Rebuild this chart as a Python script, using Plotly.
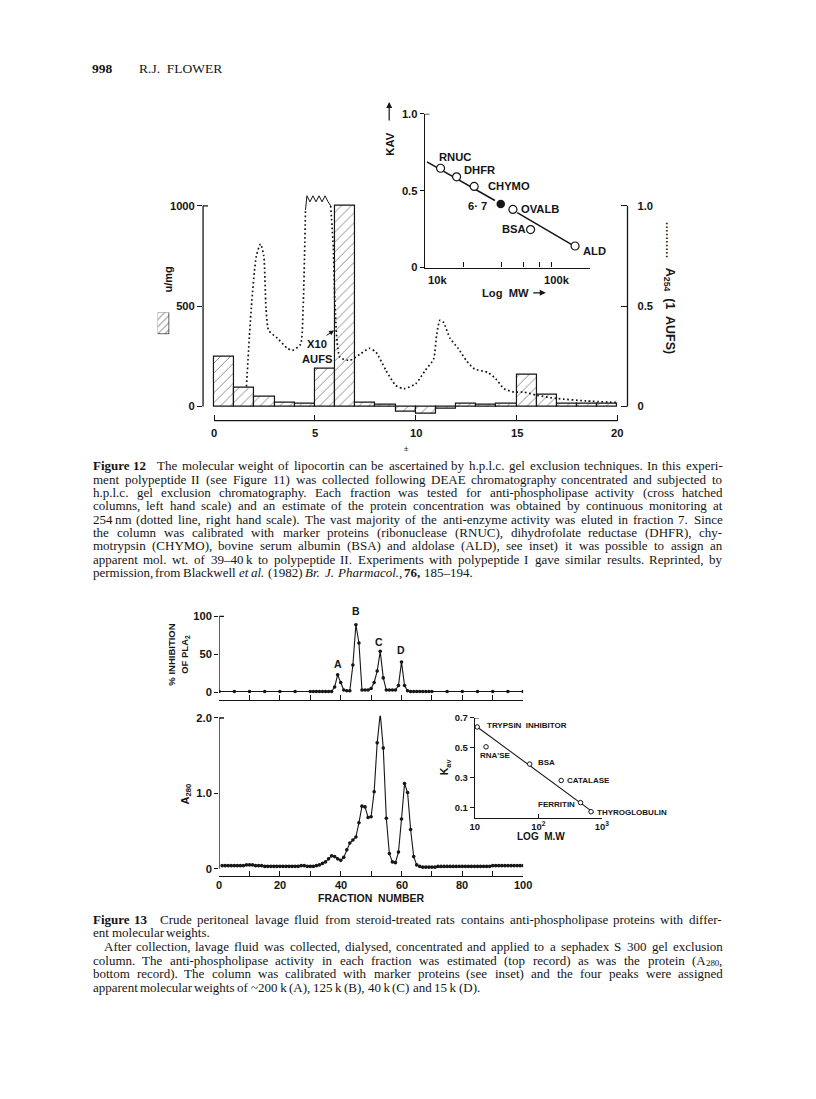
import plotly.graph_objects as go

# The page body keeps an 8 px margin; the figure is kept a little smaller than the
# window so the page never overflows, and page-pixel positions are converted with that offset.
OFF = 8
W, H = 788, 1067
def px(x): return (x - OFF) / W
def py(y): return 1 - (y - OFF) / H

SANS, SERIF, INK = "Liberation Sans", "Liberation Serif", "#151515"

# ---------------- Figure 12 data ----------------
frac12 = list(range(20))
act12_u_per_mg = [246, 95, 49, 20, 13, 189, 1000, 21, 7, -25, -38, -12, 16, 10, 13, 159, 57, 16, 16, 16]
a254_frac = [1.6, 1.84, 2.09, 2.30, 2.46, 2.57, 2.70, 3.14, 3.63, 3.88, 4.28, 4.41, 4.53, None,
             5.78, 5.91, 6.0, 6.24, 6.73, 7.22, 7.71, 8.03, 8.52, 9.01, 9.41, 9.99, 10.47, 10.88,
             11.04, 11.2, 11.37, 11.7, 12.1, 12.5, 12.92, 13.57, 13.97, 14.38, 14.87, 15.36, 16.0,
             16.99, 18.45, 20.0]
a254_aufs = [0.10, 0.49, 0.75, 0.81, 0.75, 0.49, 0.38, 0.34, 0.29, 0.28, 0.31, 0.49, 0.98, None,
             1.0, 0.79, 0.49, 0.245, 0.23, 0.26, 0.29, 0.27, 0.18, 0.105, 0.089, 0.113, 0.18, 0.236,
             0.36, 0.43, 0.42, 0.34, 0.29, 0.23, 0.187, 0.17, 0.138, 0.089, 0.072, 0.072, 0.056,
             0.04, 0.028, 0.02]
offscale_frac = [4.53, 4.60, 4.75, 4.90, 5.05, 5.20, 5.35, 5.50, 5.65, 5.78]
offscale_aufs = [0.98, 1.05, 1.02, 1.05, 1.02, 1.05, 1.02, 1.05, 1.02, 1.0]
x12_ticks = [0, 5, 10, 15, 20]

# inset: calibration
ins12_names = ["RNUC", "DHFR", "CHYMO", "OVALB", "BSA", "ALD"]
ins12_mw = [13.3e3, 17.8e3, 24.5e3, 49.5e3, 68.2e3, 153e3]
ins12_kav = [0.646, 0.59, 0.528, 0.378, 0.247, 0.14]
sample12_name = "6· 7"
sample12_mw = [39.7e3]
sample12_kav = [0.414]
fit12_mw = [10.4e3, 35.7e3, None, 53.5e3, 143e3]
fit12_kav = [0.687, 0.436, None, 0.357, 0.150]

# ---------------- Figure 13 data ----------------
inh_frac = [0, 5, 10, 15, 20, 25, 30, 31, 32, 33, 34, 35, 36, 37, 38, 39, 40, 41, 42, 43, 44, 45,
            46, 47, 48, 49, 50, 51, 52, 53, 54, 55, 56, 57, 58, 59, 60, 61, 62, 63, 64, 65, 66, 67,
            68, 69, 70, 75, 80, 85, 90, 95, 100]
inh_pct = [1, 1, 1, 1, 1, 1, 1, 1, 1, 1, 1, 1, 1, 1, 7, 23, 13, 3, 2, 2, 36, 89, 65, 3, 3, 3, 5,
           13, 28, 54, 19, 3, 3, 3, 3, 9, 40, 9, 2, 1, 1, 1, 1, 1, 1, 1, 1, 1, 1, 1, 1, 1, 1]
peak_names = ["A", "B", "C", "D"]

a280_frac = list(range(1, 101))
a280 = [0.04, 0.04, 0.04, 0.04, 0.04, 0.04, 0.04, 0.04, 0.05, 0.05,
        0.05, 0.04, 0.04, 0.04, 0.03, 0.03, 0.03, 0.03, 0.03, 0.03,
        0.03, 0.03, 0.03, 0.03, 0.03, 0.03, 0.04, 0.04, 0.03, 0.03,
        0.03, 0.04, 0.05, 0.07, 0.09, 0.13, 0.17, 0.16, 0.13, 0.11,
        0.15, 0.25, 0.34, 0.38, 0.42, 0.61, 0.83, 0.82, 0.68, 0.69,
        1.02, 1.67, 2.06, 1.60, 0.67, 0.20, 0.09, 0.08, 0.22, 0.66,
        1.13, 1.01, 0.52, 0.16, 0.05, 0.03, 0.02, 0.02, 0.02, 0.02,
        0.02, 0.03, 0.03, 0.03, 0.03, 0.03, 0.03, 0.03, 0.03, 0.03,
        0.03, 0.03, 0.03, 0.03, 0.03, 0.03, 0.03, 0.03, 0.03, 0.04,
        0.04, 0.04, 0.04, 0.04, 0.04, 0.04, 0.04, 0.04, 0.04, 0.04]
x13_label_ticks = [0, 20, 40, 60, 80, 100]

ins13_names = ["TRYPSIN  INHIBITOR", "RNA'SE", "BSA", "CATALASE", "FERRITIN", "THYROGLOBULIN"]
ins13_mw = [10.9, 15.0, 73, 229, 461, 675]
ins13_kav = [0.64, 0.507, 0.392, 0.282, 0.134, 0.073]
fit13_mw = [10.9, 740]
fit13_kav = [0.64, 0.067]

caption12 = [
    ("**Figure **12+ The molecular weight of lipocortin can be ascertained by h.p.l.c. gel exclusion techniques. In this experi-", True, 0),
    ("ment polypeptide II (see Figure 11) was collected following DEAE chromatography concentrated and subjected to", True, 0),
    ("h.p.l.c. gel exclusion chromatography. Each fraction was tested for anti-phospholipase activity (cross hatched", True, 0),
    ("columns, left hand scale) and an estimate of the protein concentration was obtained by continuous monitoring at", True, 0),
    ("254\u2009nm (dotted line, right hand scale). The vast majority of the anti-enzyme activity was eluted in fraction 7. Since", True, 0),
    ("the column was calibrated with marker proteins (ribonuclease (RNUC), dihydrofolate reductase (DHFR), chy-", True, 0),
    ("motrypsin (CHYMO), bovine serum albumin (BSA) and aldolase (ALD), see inset) it was possible to assign an", True, 0),
    ("apparent mol. wt. of 39–40\u2009k to polypeptide II. Experiments with polypeptide I gave similar results. Reprinted, by", True, 0),
    ("permission, from Blackwell //et //al. (1982) //Br. //J. //Pharmacol., **76, 185–194.", False, 0),
]
caption13 = [
    ("**Figure **13+ Crude peritoneal lavage fluid from steroid-treated rats contains anti-phospholipase proteins with differ-", True, 0),
    ("ent molecular weights.", False, 0),
    ("After collection, lavage fluid was collected, dialysed, concentrated and applied to a sephadex S 300 gel exclusion", True, 11),
    ("column. The anti-phospholipase activity in each fraction was estimated (top record) as was the protein (A_280_,", True, 0),
    ("bottom record). The column was calibrated with marker proteins (see inset) and the four peaks were assigned", True, 0),
    ("apparent molecular weights of ~200\u2009k (A), 125\u2009k (B), 40\u2009k (C) and 15\u2009k (D).", False, 0),
]

# ---------------- helpers ----------------
def tf(size=11.2):
    return dict(family=SANS, size=size, color=INK, weight="bold")

anns = []
def text(x, y, s, size=11.2, angle=0, xanchor="center", family=SANS, weight="bold", yanchor="middle"):
    anns.append(dict(x=px(x), y=py(y), xref="paper", yref="paper", text=s, showarrow=False,
                     textangle=angle, xanchor=xanchor, yanchor=yanchor, borderpad=0,
                     font=dict(family=family, size=size, color=INK, weight=weight)))

def tick_label(xval, xref, y, s, size=11.2):
    anns.append(dict(x=xval, y=py(y), xref=xref, yref="paper", text=s, showarrow=False,
                     xanchor="center", yanchor="middle", borderpad=0, font=tf(size)))

def arrow(xh, yh, axo, ayo, width=1.2):
    anns.append(dict(x=px(xh), y=py(yh), xref="paper", yref="paper", text="", showarrow=True,
                     ax=axo, ay=ayo, arrowhead=2, arrowsize=1, arrowwidth=width, arrowcolor=INK))

TNR = {' ': 250, '!': 333, '(': 333, ')': 333, ',': 250, '-': 333, '.': 250, '/': 278, ':': 278,
       ';': 278, "'": 333, '~': 541, '–': 500, '\u2009': 170,
       'A': 722, 'B': 667, 'C': 667, 'D': 722, 'E': 611, 'F': 556, 'G': 722, 'H': 722, 'I': 333,
       'J': 389, 'K': 722, 'L': 611, 'M': 889, 'N': 722, 'O': 722, 'P': 556, 'Q': 722, 'R': 667,
       'S': 556, 'T': 611, 'U': 722, 'V': 722, 'W': 944, 'X': 722, 'Y': 722, 'Z': 611,
       'a': 444, 'b': 500, 'c': 444, 'd': 500, 'e': 444, 'f': 333, 'g': 500, 'h': 500, 'i': 278,
       'j': 278, 'k': 500, 'l': 278, 'm': 778, 'n': 500, 'o': 500, 'p': 500, 'q': 500, 'r': 333,
       's': 389, 't': 278, 'u': 500, 'v': 500, 'w': 722, 'x': 500, 'y': 500, 'z': 444}
SUB = 0.68

def tw(s):
    return sum(TNR.get(c, 500) for c in s)

def parse_token(t):
    """Returns a list of (html, width_units, is_sub) pieces plus extra trailing width."""
    style = "r"
    if t.startswith("**"):
        style, t = "b", t[2:]
    elif t.startswith("//"):
        style, t = "i", t[2:]
    extra = 0
    if t.endswith("+") and len(t) > 1:
        extra, t = 450, t[:-1]
    factor = {"r": 1.0, "b": 1.05, "i": 1.05}[style]
    pieces = []
    for k, p in enumerate(t.split("_")):
        if not p:
            continue
        sub = k % 2 == 1
        h = p
        if style == "b":
            h = "<b>" + h + "</b>"
        elif style == "i":
            h = "<i>" + h + "</i>"
        pieces.append((h, tw(p) * factor * (SUB if sub else 1.0), sub))
    return pieces, extra

def caption(lines, y0, dy, left, right, fs):
    for i, (line, justify, indent) in enumerate(lines):
        toks = [parse_token(t) for t in line.split(" ")]
        widths = [(sum(w for _, w, _ in pcs) + e) * fs / 1000 for pcs, e in toks]
        x = left + indent
        if justify and len(toks) > 1:
            gap = max((right - x - sum(widths)) / (len(toks) - 1), 0.12 * fs)
        else:
            gap = 250 * fs / 1000
        yl = y0 + i * dy
        for (pcs, e), wd in zip(toks, widths):
            xp = x
            for h, w, sub in pcs:
                if sub:
                    text(xp, yl + 2.6, h, size=fs * SUB, family=SERIF, weight="normal", xanchor="left")
                else:
                    text(xp, yl, h, size=fs, family=SERIF, weight="normal", xanchor="left")
                xp += w * fs / 1000
            x += wd + gap

def axis(**kw):
    base = dict(showgrid=False, zeroline=False, showline=False, linecolor=INK, linewidth=1.3,
                tickcolor=INK, tickwidth=1.3, tickfont=tf(), fixedrange=True)
    base.update(kw)
    return base

hatch = dict(shape="/", fgcolor=INK, bgcolor="white", size=7, solidity=0.14)

fig = go.Figure()

# ---- Figure 12 main ----
fig.add_trace(go.Bar(x=frac12, y=act12_u_per_mg, width=1, offset=0,
                     marker=dict(color="white", line=dict(color=INK, width=1.2), pattern=hatch),
                     xaxis="x", yaxis="y"))
fig.add_trace(go.Scatter(x=a254_frac, y=a254_aufs, mode="lines", connectgaps=False,
                         line=dict(color=INK, width=1.7, dash="1.7px,2.6px", shape="spline", smoothing=0.6),
                         xaxis="x", yaxis="y2"))
fig.add_trace(go.Scatter(x=offscale_frac, y=offscale_aufs, mode="lines",
                         line=dict(color=INK, width=1), xaxis="x", yaxis="y2"))

# ---- Figure 12 inset ----
fig.add_trace(go.Scatter(x=fit12_mw, y=fit12_kav, mode="lines", connectgaps=False,
                         line=dict(color=INK, width=1.5), xaxis="x3", yaxis="y3"))
fig.add_trace(go.Scatter(x=ins12_mw, y=ins12_kav, mode="markers", text=ins12_names,
                         marker=dict(size=8, color="white", line=dict(color=INK, width=1.2)),
                         xaxis="x3", yaxis="y3"))
fig.add_trace(go.Scatter(x=sample12_mw, y=sample12_kav, mode="markers",
                         marker=dict(size=8.5, color=INK), xaxis="x3", yaxis="y3"))

# ---- Figure 13 top ----
fig.add_trace(go.Scatter(x=inh_frac, y=inh_pct, mode="lines+markers",
                         line=dict(color=INK, width=1.1), marker=dict(size=3.6, color=INK),
                         xaxis="x4", yaxis="y4"))
# ---- Figure 13 bottom ----
fig.add_trace(go.Scatter(x=a280_frac, y=a280, mode="lines+markers",
                         line=dict(color=INK, width=1.1), marker=dict(size=3.6, color=INK),
                         xaxis="x5", yaxis="y5"))
# ---- Figure 13 inset ----
fig.add_trace(go.Scatter(x=fit13_mw, y=fit13_kav, mode="lines",
                         line=dict(color=INK, width=1.1), xaxis="x6", yaxis="y6"))
fig.add_trace(go.Scatter(x=ins13_mw, y=ins13_kav, mode="markers", text=ins13_names,
                         marker=dict(size=4.5, color="white", line=dict(color=INK, width=1)),
                         xaxis="x6", yaxis="y6"))
# ---- hatched key swatch ----
fig.add_trace(go.Bar(x=[0.5], y=[1], width=1,
                     marker=dict(color="white", line=dict(color=INK, width=1.2),
                                 pattern=dict(shape="/", fgcolor=INK, bgcolor="white", size=5, solidity=0.18)),
                     xaxis="x7", yaxis="y7"))

layout_axes = dict(
    xaxis=axis(domain=[px(201), px(632)], range=[-0.552, 20.503], tickvals=x12_ticks,
               showticklabels=False, ticks="inside", ticklen=6, anchor="y"),
    yaxis=axis(domain=[py(419.2), py(181.7)], range=[-70, 1100], tickvals=[0, 500, 1000],
               ticks="outside", ticklen=5, anchor="x"),
    yaxis2=axis(domain=[py(419.2), py(181.7)], range=[-0.07, 1.1], tickvals=[0, 0.5, 1.0],
                ticktext=["0", "0.5", "1.0"], ticks="inside", ticklen=6, overlaying="y",
                side="right", anchor="x", ticklabelstandoff=9),
    xaxis3=axis(domain=[px(426.2), px(593.5)], type="log", range=[4, 5.299],
                tickvals=[1e4, 2e4, 4e4, 6e4, 8e4, 1e5, 2e5], showticklabels=False,
                ticks="inside", ticklen=5, showline=True, anchor="y3"),
    yaxis3=axis(domain=[py(264.4), py(109)], range=[0, 1], tickvals=[0, 0.5, 1],
                ticktext=["0", "0.5", "1.0"], ticks="outside", ticklen=4, showline=True, anchor="x3"),
    xaxis4=axis(domain=[px(217.3), px(526)], range=[0, 100], tickvals=list(range(0, 101, 10)),
                showticklabels=False, ticks="inside", ticklen=5, showline=True, anchor="y4"),
    yaxis4=axis(domain=[py(702.3), py(614.2)], range=[-10.8, 104], tickvals=[0, 50, 100],
                ticks="outside", ticklen=4, anchor="x4"),
    xaxis5=axis(domain=[px(217.3), px(526)], range=[0, 100], tickvals=list(range(0, 101, 10)),
                showticklabels=False, ticks="inside", ticklen=5, showline=True, anchor="y5"),
    yaxis5=axis(domain=[py(880), py(717.7)], range=[-0.1, 2.03], tickvals=[0, 1, 2],
                ticktext=["0", "1.0", "2.0"], ticks="outside", ticklen=4, anchor="x5"),
    xaxis6=axis(domain=[px(477), px(606)], type="log", range=[1, 3], tickvals=[10, 100, 1000],
                ticktext=["10", "10<sup>2</sup>", "10<sup>3</sup>"], tickfont=tf(9.5),
                ticks="inside", ticklen=4, showline=True, linewidth=1.1, anchor="y6"),
    yaxis6=axis(domain=[py(821), py(720)], range=[0.032, 0.7], tickvals=[0.1, 0.3, 0.5, 0.7],
                ticktext=["0.1", "0.3", "0.5", "0.7"], tickfont=tf(9.5), ticks="outside",
                ticklen=4, showline=True, linewidth=1.1, anchor="x6"),
    xaxis7=dict(domain=[px(155), px(166.7)], range=[0, 1], visible=False, anchor="y7", fixedrange=True),
    yaxis7=dict(domain=[py(332), py(310)], range=[0, 1], visible=False, anchor="x7", fixedrange=True),
)

line = dict(color=INK, width=1.3)
shapes = [
    dict(type="line", xref="paper", yref="y", x0=px(201), x1=px(201), y0=0, y1=1000, line=line),
    dict(type="line", xref="paper", yref="y", x0=px(201), x1=px(206), y0=1000, y1=1000, line=line),
    dict(type="line", xref="paper", yref="y2", x0=px(632), x1=px(632), y0=0, y1=1.0, line=line),
    dict(type="line", xref="x", yref="paper", x0=0, x1=20, y0=py(419.2), y1=py(419.2), line=line),
    dict(type="line", xref="paper", yref="y3", x0=px(426.2), x1=px(431), y0=1, y1=1, line=line),
    dict(type="line", xref="x4", yref="y4", x0=0, x1=0, y0=0, y1=100, line=line),
    dict(type="line", xref="x4", yref="y4", x0=0, x1=1.6, y0=100, y1=100, line=line),
    dict(type="line", xref="x5", yref="y5", x0=0, x1=0, y0=0, y1=2.0, line=line),
    dict(type="line", xref="x5", yref="y5", x0=0, x1=1.6, y0=2.0, y1=2.0, line=line),
    dict(type="line", xref="paper", yref="y6", x0=px(477), x1=px(481), y0=0.7, y1=0.7,
         line=dict(color=INK, width=1.1)),
]

# ---------- text ----------
text(87.3, 63, "<b>998</b>", size=13.5, family=SERIF, weight="normal", xanchor="left")
text(135, 63, "R.J.  FLOWER", size=13.5, family=SERIF, weight="normal", xanchor="left")

# Figure 12 labels
for v in x12_ticks:
    tick_label(v, "x", 431.7, str(v))
text(165, 277, "u/mg", size=11, angle=-90)
text(671.5, 237, "··········", size=11, angle=90)
text(675, 308, "A<sub>254</sub>  (1  AUFS)", size=12.5, angle=90)
text(317, 342, "X10", size=11.2)
text(317, 357, "AUFS", size=11.2)
arrow(334, 328, -9, 6, width=1)
text(408, 447, "±", size=8, weight="normal")

ins12_label_px = [(456.7, 152.7), (481.7, 166), (511.7, 182.3), (543.3, 205), (516.7, 225), (598.3, 247.3)]
for name, (lx, ly) in zip(ins12_names, ins12_label_px):
    text(lx, ly, name)
text(480, 201.7, sample12_name)
text(390, 140, "KAV", angle=-90)
arrow(390, 97, 0, 20)
text(439.3, 276.7, "10k")
text(560, 276.7, "100k")
text(483, 290, "Log  MW", xanchor="left")
arrow(549, 290, -14, 0, width=1.2)

# Figure 13 labels
peak_label_px = [(338.3, 665.7), (356.7, 612), (379.3, 643.3), (402.3, 651)]
for name, (lx, ly) in zip(peak_names, peak_label_px):
    text(lx, ly, name, size=10.5)
text(175.5, 656, "% INHIBITION<br>OF PLA<sub>2</sub>", size=9.5, angle=-90)
text(184, 797, "A<sub>280</sub>", size=11, angle=-90)
for v in x13_label_ticks:
    tick_label(v, "x5", 888.5, str(v), size=11)
text(371.7, 902.5, "FRACTION  NUMBER", size=10.5)

ins13_label_px = [(488.3, 728), (481.7, 758.3), (540, 765), (570, 783.3), (540, 807.3), (600, 816)]
for name, (lx, ly) in zip(ins13_names, ins13_label_px):
    text(lx, ly, name, size=8, xanchor="left")
text(447.5, 769, "K<sub>av</sub>", size=10.5, angle=-90)
text(544, 840, "LOG  M.W", size=10)

# captions
caption(caption12, 465, 13.5, 88, 727, 13)
caption(caption13, 923.5, 13.8, 88, 727, 13)

fig.update_layout(width=W, height=H, margin=dict(l=0, r=0, t=0, b=0), showlegend=False,
                  paper_bgcolor="white", plot_bgcolor="rgba(0,0,0,0)", bargap=0,
                  shapes=shapes, annotations=anns, **layout_axes)
fig.write_html("out.html")
